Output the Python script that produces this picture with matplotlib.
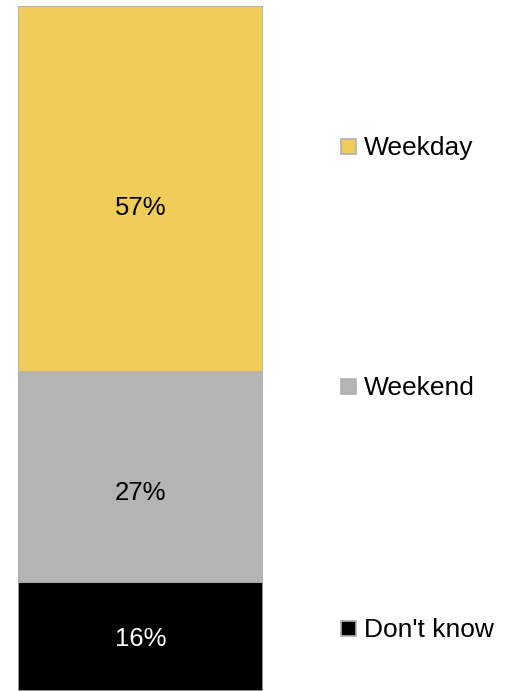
import matplotlib
matplotlib.use("Agg")
import matplotlib.pyplot as plt
from matplotlib.patches import Rectangle
import numpy as np

# bottom -> top
categories = ["Don't know", "Weekend", "Weekday"]
shares     = [16, 27, 57]          # printed labels
bar_sizes  = [16, 31, 54]          # segment lengths as drawn in the picture
colors     = ["#000000", "#b4b4b4", "#f0cd59"]
text_cols  = ["white", "black", "black"]
legend_base = [637, 395, 155]      # legend text baselines, pixels from top

W, H = 513, 691
fig = plt.figure(figsize=(W / 100, H / 100), dpi=100)
ax = fig.add_axes([18 / W, 0, 245 / W, 685.5 / H])

bottoms = np.concatenate([[0], np.cumsum(bar_sizes)[:-1]])
ax.bar(0, bar_sizes, bottom=bottoms, width=1.0, color=colors,
       edgecolor="#b0b0b0", linewidth=1.2)

# data labels sit at the centre of the printed shares
centres = np.cumsum(shares) - np.array(shares) / 2
for c, s, tc in zip(centres, shares, text_cols):
    ax.annotate(f"{s}%", (0, c), xytext=(0, -9), textcoords="offset pixels",
                ha="center", va="baseline", color=tc,
                fontsize=18.5, family="Liberation Sans")

ax.set_xlim(-0.5, 0.5)
ax.set_ylim(0, sum(bar_sizes))
ax.axis("off")

# legend, one row per category
for cat, col, yb in zip(categories, colors, legend_base):
    fy = 1 - yb / H
    fig.patches.append(Rectangle((341 / W, fy + 1.5 / H), 15 / W, 15 / H,
                                 transform=fig.transFigure, facecolor=col,
                                 edgecolor="#b0b0b0", linewidth=1.2))
    fig.text(364 / W, fy, cat, ha="left", va="baseline", fontsize=19,
             family="Liberation Sans")

fig.savefig("out.png", dpi=100)
